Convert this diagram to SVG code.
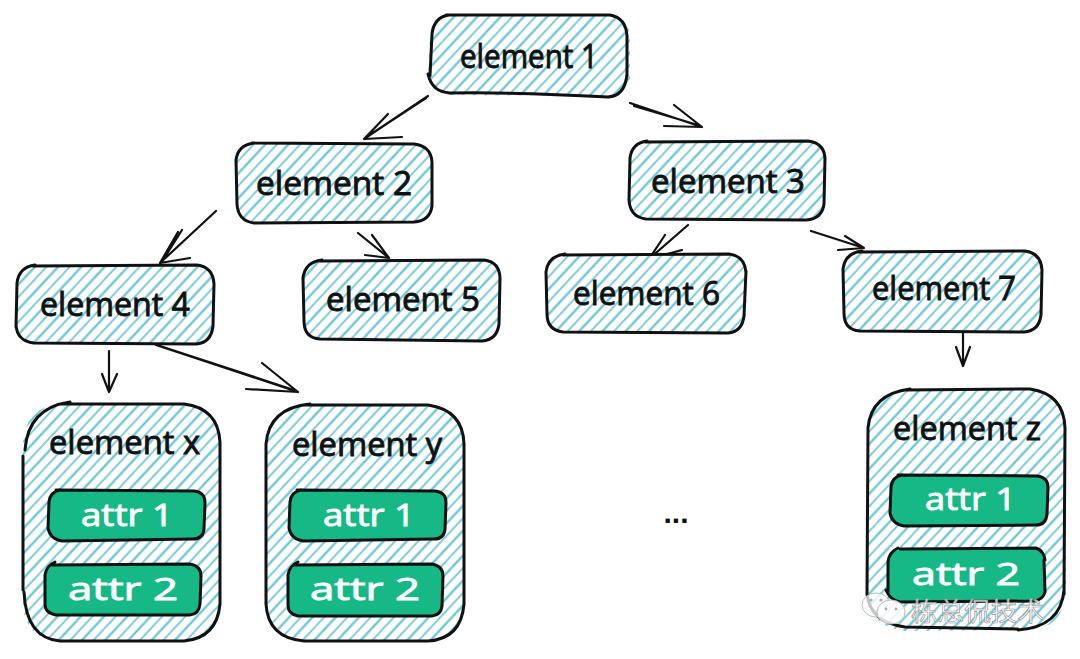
<svg xmlns="http://www.w3.org/2000/svg" width="1080" height="659" viewBox="0 0 1080 659">
<style>
.o{fill:none;stroke:#111;stroke-width:3;stroke-linecap:round;stroke-linejoin:round}
.h{fill:url(#hatch);stroke:none}
.g{fill:#16b985;stroke:none}
.c{fill:none;stroke:#111;stroke-width:2.2;stroke-linecap:round;stroke-linejoin:round}
text{font-family:"Open Sans","Noto Sans",sans-serif}
.t{font-size:32px;fill:#111;stroke:#111;stroke-width:.9}
.a{font-size:31px;fill:#fff;stroke:#fff;stroke-width:.9}
.w{font-family:"Noto Sans CJK SC",sans-serif;font-size:26px;fill:#fff;stroke:#8a8a8a;stroke-width:.6;fill-opacity:.8}
</style>
<defs>
<pattern id="hatch" width="17" height="17" patternUnits="userSpaceOnUse" patternTransform="rotate(-47)">
<rect width="17" height="17" fill="#fff"/>
<line x1="0" y1="3.5" x2="17" y2="3.5" stroke="#5cbfd3" stroke-width="2.1"/>
<line x1="0" y1="12" x2="17" y2="12" stroke="#6cc6d8" stroke-width="1.7"/>
</pattern>
</defs>
<rect width="1080" height="659" fill="#fff"/>
<g id="connectors">
<path class="c" d="M428 96L364 139M426 98L368 136M388 114L364 139L402 137"/>
<path class="c" d="M630 103L702 127M634 106L698 125M674 105L702 127L664 126"/>
<path class="c" d="M216 211L160 263M178 232L160 263L190 258M182 230L163 260"/>
<path class="c" d="M358 233L389 258M372 235L389 258L365 255"/>
<path class="c" d="M688 225L649 259M665 235L649 259L682 250"/>
<path class="c" d="M811 231L864 248M845 236L864 248L838 250"/>
<path class="c" d="M109 351L109 392M102 374L109 392L117 374"/>
<path class="c" d="M156 345L298 392M160 346L294 390M262 363L298 392L246 389"/>
<path class="c" d="M963 331L963 366M956 347L963 366L970 347"/>
</g>
<g id="element1">
<path class="h" d="M448 16L612 16Q628 18 630 36L630 78Q628 96 610 96L448 95Q430 92 428 76L430 34Q432 18 448 16Z"/>
<path class="o" d="M446 15L610 15Q626 18 627 36M627 36L627 76M627 74Q625 96 608 97Q520 92 450 93Q432 92 428 74M430 76L432 34Q434 17 449 15"/>
<text class="t" x="460" y="68" textLength="138" lengthAdjust="spacingAndGlyphs">element 1</text>
</g>
<g id="element2">
<path class="h" d="M254 144L416 143Q432 145 433 162L433 206Q431 222 414 222L254 223Q237 221 236 204L236 160Q238 145 254 144Z"/>
<path class="o" d="M252 143L414 144Q431 146 432 162L432 206Q430 221 414 222L254 223Q238 221 237 204L236 160Q238 145 254 143"/>
<text class="t" x="256" y="195" textLength="156" lengthAdjust="spacingAndGlyphs">element 2</text>
</g>
<g id="element3">
<path class="h" d="M646 142L810 141Q826 143 826 160L825 204Q823 219 806 220L646 220Q630 218 629 200L630 158Q632 143 646 142Z"/>
<path class="o" d="M645 142L808 141Q825 143 825 160M825 158L824 204Q822 219 806 220L646 219Q630 217 629 200L630 158Q632 143 647 141"/>
<text class="t" x="651" y="193" textLength="154" lengthAdjust="spacingAndGlyphs">element 3</text>
</g>
<g id="element4">
<path class="h" d="M33 266L198 265Q214 267 215 284L214 328Q212 343 196 344L34 344Q17 342 16 325L16 283Q18 267 33 266Z"/>
<path class="o" d="M33 266L197 265Q213 267 214 284L213 326Q211 343 196 344L34 343Q17 341 16 325M16 327L17 283Q19 267 35 265"/>
<text class="t" x="40" y="316" textLength="150" lengthAdjust="spacingAndGlyphs">element 4</text>
</g>
<g id="element5">
<path class="h" d="M320 261L484 260Q500 262 501 279L500 324Q498 340 482 341L320 340Q304 338 303 321L303 278Q305 262 320 261Z"/>
<path class="o" d="M320 261L484 260Q500 262 500 279L499 324Q497 340 482 341L320 339Q304 338 304 321L303 278Q305 262 322 260"/>
<text class="t" x="326" y="311" textLength="154" lengthAdjust="spacingAndGlyphs">element 5</text>
</g>
<g id="element6">
<path class="h" d="M563 255L730 254Q746 256 747 273L746 316Q744 332 728 333L563 333Q547 331 546 314L546 272Q548 256 563 255Z"/>
<path class="o" d="M563 255L729 254Q745 256 746 273M746 271L744 316Q742 332 728 333L563 332Q547 330 547 314L546 272Q548 256 565 254"/>
<text class="t" x="573" y="305" textLength="147" lengthAdjust="spacingAndGlyphs">element 6</text>
</g>
<g id="element7">
<path class="h" d="M860 252L1026 251Q1042 253 1043 270L1042 315Q1040 331 1024 332L860 332Q844 330 843 313L843 269Q845 253 860 252Z"/>
<path class="o" d="M860 252L1025 251Q1041 253 1042 270L1041 315Q1039 331 1024 332L860 331Q844 330 844 313L843 269Q845 253 862 251"/>
<text class="t" x="872" y="300" textLength="144" lengthAdjust="spacingAndGlyphs">element 7</text>
</g>
<g id="elementx">
<path class="h" d="M58 404L186 404Q220 408 221 442L221 604Q218 640 184 641L60 642Q24 638 23 604L23 442Q26 408 58 404Z"/>
<path class="o" d="M60 404L184 404Q218 408 220 442L220 604Q217 638 184 641L60 641Q26 638 24 592M23 456L23 590M25 450Q28 408 70 402"/>
<text class="t" x="49" y="454" textLength="151" lengthAdjust="spacingAndGlyphs">element x</text>
<path class="g" d="M58 490L194 490Q205 491 205 502L204 530Q203 539 194 539L60 541Q49 539 48 530L48 501Q49 491 58 490Z"/>
<path class="o" d="M56 490L194 491Q205 492 205 503L204 529Q203 539 193 539L62 541Q50 539 48 528L49 502Q50 492 60 490"/>
<text class="a" x="81" y="526" textLength="92" lengthAdjust="spacingAndGlyphs">attr 1</text>
<path class="g" d="M54 564L190 564Q201 566 202 576L201 604Q199 614 190 614L56 615Q45 613 44 604L45 575Q46 565 54 564Z"/>
<path class="o" d="M52 565L190 564Q201 566 201 576L200 604Q199 614 190 615L56 615Q45 613 45 604L45 575Q46 566 55 562"/>
<text class="a" x="68" y="600" textLength="110" lengthAdjust="spacingAndGlyphs">attr 2</text>
</g>
<g id="elementy">
<path class="h" d="M302 405L428 405Q464 410 465 444L465 604Q462 640 428 641L304 642Q266 638 265 604L265 442Q268 408 302 405Z"/>
<path class="o" d="M304 405L428 405Q463 410 464 444L464 604Q461 639 428 641L304 641Q268 638 266 604L266 444Q269 408 310 404"/>
<text class="t" x="292" y="456" textLength="150" lengthAdjust="spacingAndGlyphs">element y</text>
<path class="g" d="M299 490L435 490Q446 491 446 502L445 530Q444 539 435 539L301 541Q290 539 289 530L289 501Q290 491 299 490Z"/>
<path class="o" d="M297 490L435 491Q446 492 446 503L445 529Q444 539 434 539L303 541Q291 539 289 528L290 502Q291 492 301 490"/>
<text class="a" x="323" y="526" textLength="92" lengthAdjust="spacingAndGlyphs">attr 1</text>
<path class="g" d="M297 564L432 564Q443 566 443 576L442 606Q441 615 432 615L298 616Q288 614 287 605L288 575Q289 565 297 564Z"/>
<path class="o" d="M295 565L432 564Q443 566 443 576L442 606Q441 615 432 616L298 616Q288 614 288 605L288 575Q289 566 298 562"/>
<text class="a" x="310" y="600" textLength="110" lengthAdjust="spacingAndGlyphs">attr 2</text>
</g>
<g id="elementz">
<path class="h" d="M903 390L1030 389Q1065 394 1066 428L1066 594Q1062 628 1030 630L905 631Q869 627 867 594L868 428Q871 394 903 390Z"/>
<path class="o" d="M905 390L1030 389Q1064 394 1065 428L1064 594M1064 590Q1061 627 1018 630M1018 629L905 627Q870 622 867 594L868 428Q871 394 910 389"/>
<text class="t" x="893" y="440" textLength="148" lengthAdjust="spacingAndGlyphs">element z</text>
<path class="g" d="M900 475L1037 475Q1048 476 1048 487L1047 515Q1046 525 1037 525L902 526Q891 524 890 515L890 486Q891 476 900 475Z"/>
<path class="o" d="M898 475L1037 476Q1048 477 1048 488L1047 514Q1046 525 1036 525L904 526Q892 524 890 513L891 487Q892 477 902 475"/>
<text class="a" x="925" y="510" textLength="91" lengthAdjust="spacingAndGlyphs">attr 1</text>
<path class="g" d="M898 550L1034 549Q1044 551 1045 562L1044 590Q1043 600 1034 601L898 602Q889 600 888 591L888 561Q889 551 898 550Z"/>
<path class="o" d="M900 549L1036 548Q1044 551 1045 560M1044 560L1045 592Q1043 600 1034 601L900 602Q890 600 886 590M888 592L888 562Q889 552 898 548"/>
<text class="a" x="912" y="585" textLength="108" lengthAdjust="spacingAndGlyphs">attr 2</text>
</g>
<text id="ellipsis" x="676" y="523" text-anchor="middle" font-size="30" font-weight="700" fill="#111" style="font-family:'Liberation Sans',sans-serif">...</text>
<g id="watermark">
<ellipse cx="876" cy="605" rx="14" ry="12" fill="#fff" fill-opacity=".75" stroke="#bdbdbd" stroke-width="1"/>
<ellipse cx="891" cy="612" rx="14" ry="12" fill="#fff" fill-opacity=".85" stroke="#bdbdbd" stroke-width="1"/>
<circle cx="871" cy="600" r="1.6" fill="#aaa"/>
<circle cx="881" cy="600" r="1.6" fill="#aaa"/>
<circle cx="886" cy="609" r="1.4" fill="#aaa"/>
<circle cx="896" cy="609" r="1.4" fill="#aaa"/>
<text class="w" x="911" y="621" textLength="133" lengthAdjust="spacingAndGlyphs">栋总侃技术</text>
</g>
</svg>
